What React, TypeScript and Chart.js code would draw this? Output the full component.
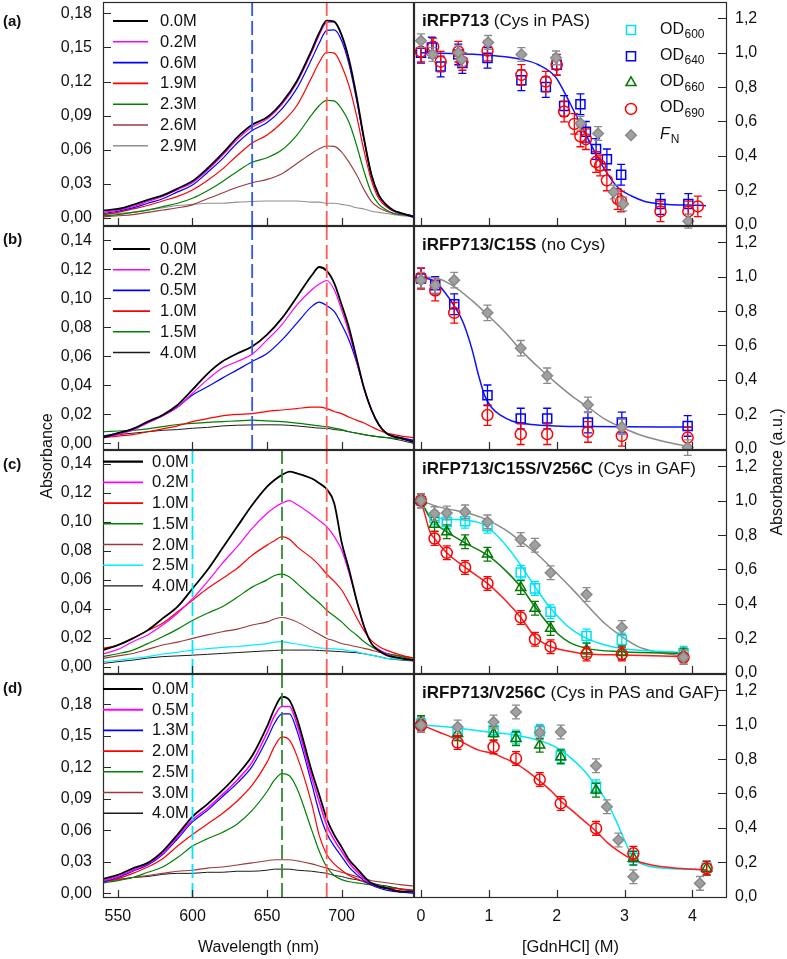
import React, { useEffect, useRef } from 'react';
import { Chart, registerables } from 'chart.js';

Chart.register(...registerables);

const FONT = "'Liberation Sans', Arial, Helvetica, sans-serif";

// ---------------- left column: absorption spectra ----------------
const wlAB = [540, 550, 560, 570, 580, 590, 600, 610, 620, 630, 640, 650, 660, 670, 680, 685, 690, 695, 700, 705, 710, 715, 720, 725, 730, 735, 740, 748];
const wlCD = [540, 550, 560, 570, 580, 590, 600, 610, 620, 630, 640, 650, 655, 660, 665, 670, 680, 685, 690, 695, 700, 705, 710, 715, 720, 725, 730, 740, 748];

// (a) iRFP713
const a00 = [0.0067, 0.008, 0.0116, 0.016, 0.020, 0.026, 0.0325, 0.0436, 0.0566, 0.071, 0.082, 0.0886, 0.1016, 0.1205, 0.148, 0.163, 0.1737, 0.1727, 0.161, 0.139, 0.107, 0.0697, 0.0378, 0.020, 0.0116, 0.0067, 0.0044, 0.001];
const a02 = [0.005, 0.007, 0.010, 0.0145, 0.019, 0.025, 0.031, 0.042, 0.055, 0.069, 0.080, 0.087, 0.100, 0.119, 0.146, 0.161, 0.172, 0.1725, 0.160, 0.138, 0.106, 0.069, 0.037, 0.019, 0.011, 0.006, 0.004, 0.001];
const a06 = [0.004, 0.006, 0.009, 0.013, 0.017, 0.023, 0.029, 0.040, 0.052, 0.066, 0.077, 0.084, 0.096, 0.114, 0.140, 0.154, 0.165, 0.1655, 0.156, 0.135, 0.104, 0.069, 0.038, 0.020, 0.011, 0.006, 0.004, 0.002];
const a19 = [0.003, 0.005, 0.008, 0.011, 0.015, 0.019, 0.0247, 0.033, 0.043, 0.055, 0.066, 0.073, 0.084, 0.099, 0.124, 0.137, 0.1458, 0.145, 0.134, 0.116, 0.090, 0.059, 0.033, 0.017, 0.010, 0.006, 0.004, 0.002];
const a23 = [0.002, 0.003, 0.005, 0.007, 0.010, 0.013, 0.0174, 0.024, 0.032, 0.041, 0.049, 0.053, 0.060, 0.073, 0.091, 0.099, 0.1035, 0.103, 0.096, 0.084, 0.064, 0.041, 0.022, 0.012, 0.007, 0.004, 0.003, 0.002];
const a26 = [0.001, 0.002, 0.003, 0.005, 0.007, 0.009, 0.0116, 0.017, 0.022, 0.027, 0.031, 0.034, 0.039, 0.048, 0.057, 0.061, 0.0633, 0.063, 0.058, 0.049, 0.038, 0.025, 0.0145, 0.009, 0.006, 0.004, 0.003, 0.002];
const a29 = [0.003, 0.004, 0.005, 0.007, 0.009, 0.011, 0.012, 0.013, 0.013, 0.014, 0.0145, 0.015, 0.015, 0.015, 0.014, 0.014, 0.013, 0.013, 0.012, 0.011, 0.009, 0.008, 0.006, 0.005, 0.004, 0.003, 0.002, 0.001];
const concA = ['0.0M', '0.2M', '0.6M', '1.9M', '2.3M', '2.6M', '2.9M'];

// (b) iRFP713/C15S
const b00 = [0.004, 0.007, 0.010, 0.015, 0.0196, 0.0265, 0.037, 0.048, 0.0565, 0.062, 0.0668, 0.075, 0.0864, 0.101, 0.116, 0.1217, 0.119, 0.1106, 0.0956, 0.0795, 0.0588, 0.038, 0.023, 0.0127, 0.007, 0.0046, 0.0035, 0.001];
const b02 = [0.004, 0.006, 0.009, 0.014, 0.019, 0.025, 0.0346, 0.044, 0.052, 0.0565, 0.0615, 0.0714, 0.082, 0.0956, 0.106, 0.110, 0.1124, 0.106, 0.092, 0.076, 0.057, 0.038, 0.023, 0.0127, 0.007, 0.0046, 0.0035, 0.001];
const b05 = [0.005, 0.007, 0.010, 0.0145, 0.019, 0.025, 0.0334, 0.039, 0.045, 0.0507, 0.0565, 0.062, 0.0714, 0.083, 0.0945, 0.0975, 0.095, 0.091, 0.082, 0.071, 0.056, 0.038, 0.023, 0.013, 0.007, 0.005, 0.004, 0.002];
const b10 = [0.004, 0.005, 0.006, 0.008, 0.010, 0.012, 0.015, 0.017, 0.019, 0.020, 0.0205, 0.022, 0.023, 0.024, 0.025, 0.025, 0.024, 0.022, 0.0205, 0.018, 0.016, 0.014, 0.0115, 0.009, 0.007, 0.006, 0.005, 0.004];
const b15 = [0.008, 0.0085, 0.009, 0.010, 0.0115, 0.013, 0.0138, 0.0145, 0.015, 0.0155, 0.016, 0.0155, 0.015, 0.014, 0.0127, 0.012, 0.0115, 0.0105, 0.0095, 0.008, 0.007, 0.006, 0.0053, 0.0045, 0.004, 0.0035, 0.003, 0.002];
const b40 = [0.005, 0.006, 0.007, 0.008, 0.009, 0.0095, 0.0104, 0.011, 0.012, 0.0125, 0.0127, 0.0128, 0.0127, 0.012, 0.011, 0.0105, 0.0104, 0.0095, 0.009, 0.008, 0.007, 0.006, 0.005, 0.0045, 0.004, 0.003, 0.002, 0.000];
const concB = ['0.0M', '0.2M', '0.5M', '1.0M', '1.5M', '4.0M'];

// (c) iRFP713/C15S/V256C
const c00 = [0.0115, 0.015, 0.0196, 0.0253, 0.0334, 0.0415, 0.054, 0.0668, 0.0818, 0.0968, 0.1117, 0.1244, 0.129, 0.1325, 0.1348, 0.1336, 0.130, 0.1267, 0.1226, 0.113, 0.086, 0.067, 0.046, 0.028, 0.016, 0.011, 0.008, 0.0058, 0.0046];
const c02 = [0.0088, 0.012, 0.0173, 0.022, 0.0288, 0.037, 0.047, 0.0588, 0.0714, 0.083, 0.0956, 0.106, 0.110, 0.113, 0.1147, 0.112, 0.105, 0.101, 0.0968, 0.090, 0.0806, 0.0645, 0.046, 0.0276, 0.016, 0.012, 0.0092, 0.0058, 0.0045];
const c10 = [0.0127, 0.015, 0.0196, 0.025, 0.030, 0.038, 0.046, 0.054, 0.061, 0.068, 0.077, 0.084, 0.087, 0.0899, 0.088, 0.083, 0.075, 0.070, 0.064, 0.059, 0.053, 0.044, 0.034, 0.025, 0.018, 0.014, 0.0115, 0.008, 0.006];
const c15 = [0.007, 0.009, 0.0115, 0.016, 0.0207, 0.026, 0.032, 0.037, 0.0415, 0.048, 0.055, 0.060, 0.063, 0.064, 0.062, 0.0576, 0.0484, 0.044, 0.039, 0.035, 0.031, 0.026, 0.0219, 0.0173, 0.0138, 0.011, 0.0092, 0.007, 0.005];
const c20 = [0.0058, 0.0075, 0.0092, 0.012, 0.015, 0.017, 0.0196, 0.022, 0.0242, 0.026, 0.0288, 0.031, 0.033, 0.034, 0.033, 0.031, 0.0253, 0.0225, 0.0196, 0.018, 0.016, 0.015, 0.0138, 0.0127, 0.0115, 0.010, 0.0092, 0.0074, 0.006];
const c25 = [0.0035, 0.0045, 0.0058, 0.007, 0.0088, 0.010, 0.0115, 0.0125, 0.0134, 0.014, 0.015, 0.016, 0.017, 0.0173, 0.0165, 0.0157, 0.0138, 0.013, 0.0127, 0.0123, 0.012, 0.011, 0.0104, 0.009, 0.008, 0.007, 0.0058, 0.005, 0.0045];
const c40 = [0.0023, 0.0035, 0.0046, 0.006, 0.007, 0.0075, 0.008, 0.0086, 0.0092, 0.0098, 0.0104, 0.011, 0.0112, 0.0115, 0.0115, 0.0115, 0.0115, 0.0112, 0.011, 0.0107, 0.0104, 0.010, 0.0097, 0.009, 0.008, 0.007, 0.0058, 0.0046, 0.004];
const concC = ['0.0M', '0.2M', '1.0M', '1.5M', '2.0M', '2.5M', '4.0M'];

// (d) iRFP713/V256C
const d00 = [0.0137, 0.0175, 0.0238, 0.029, 0.040, 0.056, 0.073, 0.085, 0.098, 0.113, 0.131, 0.159, 0.176, 0.1873, 0.184, 0.1667, 0.116, 0.0937, 0.071, 0.0556, 0.044, 0.032, 0.024, 0.016, 0.0095, 0.0064, 0.0048, 0.0016, 0.0016];
const d05 = [0.012, 0.016, 0.022, 0.028, 0.038, 0.054, 0.070, 0.081, 0.094, 0.108, 0.125, 0.153, 0.169, 0.178, 0.178, 0.161, 0.110, 0.087, 0.065, 0.051, 0.040, 0.029, 0.021, 0.014, 0.009, 0.006, 0.0045, 0.002, 0.002];
const d13 = [0.011, 0.015, 0.021, 0.027, 0.037, 0.052, 0.068, 0.079, 0.092, 0.105, 0.121, 0.147, 0.162, 0.171, 0.171, 0.155, 0.104, 0.077, 0.057, 0.045, 0.035, 0.025, 0.018, 0.012, 0.008, 0.005, 0.003, 0.001, 0.000];
const d20 = [0.011, 0.014, 0.019, 0.025, 0.033, 0.045, 0.056, 0.066, 0.076, 0.088, 0.103, 0.125, 0.140, 0.149, 0.146, 0.131, 0.085, 0.055, 0.037, 0.028, 0.022, 0.017, 0.014, 0.011, 0.008, 0.006, 0.005, 0.004, 0.003];
const d25 = [0.010, 0.012, 0.015, 0.020, 0.025, 0.034, 0.045, 0.052, 0.058, 0.066, 0.079, 0.097, 0.108, 0.114, 0.112, 0.100, 0.060, 0.040, 0.025, 0.017, 0.013, 0.011, 0.010, 0.009, 0.008, 0.007, 0.006, 0.004, 0.003];
const d30 = [0.011, 0.013, 0.015, 0.017, 0.019, 0.021, 0.022, 0.024, 0.025, 0.027, 0.029, 0.031, 0.032, 0.032, 0.032, 0.031, 0.028, 0.026, 0.024, 0.022, 0.020, 0.018, 0.016, 0.014, 0.012, 0.011, 0.010, 0.008, 0.007];
const d40 = [0.012, 0.013, 0.015, 0.016, 0.018, 0.019, 0.019, 0.020, 0.020, 0.021, 0.021, 0.022, 0.023, 0.023, 0.023, 0.022, 0.021, 0.020, 0.019, 0.017, 0.016, 0.014, 0.013, 0.011, 0.010, 0.008, 0.007, 0.004, 0.002];
const concD = ['0.0M', '0.5M', '1.3M', '2.0M', '2.5M', '3.0M', '4.0M'];

const xTicksL = [550, 600, 650, 700];
const yTicksL1 = [0, 0.03, 0.06, 0.09, 0.12, 0.15, 0.18];
const yTicksL2 = [0, 0.02, 0.04, 0.06, 0.08, 0.10, 0.12, 0.14];

// ---------------- right column: denaturation ----------------
const xTicksR = [0, 1, 2, 3, 4];
const yTicksR = [0, 0.2, 0.4, 0.6, 0.8, 1.0, 1.2];

// (a)
const gxA = [0, 0.17, 0.55, 0.6, 0.99, 1.48, 1.99, 2.35, 2.61, 2.84, 2.98, 3.94];
const gyA = [1.07, 0.99, 1.0, 0.96, 1.06, 0.99, 0.97, 0.59, 0.53, 0.19, 0.12, 0.02];
const geA = [0.04, 0.04, 0.04, 0.04, 0.04, 0.04, 0.04, 0.04, 0.04, 0.04, 0.04, 0.04];
const rxA = [0, 0.18, 0.29, 0.55, 0.61, 0.98, 1.48, 1.84, 2.0, 2.11, 2.26, 2.35, 2.43, 2.58, 2.64, 2.74, 2.9, 2.95, 3.53, 3.94, 4.08];
const ryA = [1.006, 1.035, 0.948, 1.006, 0.948, 1.012, 0.871, 0.832, 0.929, 0.658, 0.586, 0.513, 0.497, 0.364, 0.344, 0.257, 0.149, 0.135, 0.077, 0.077, 0.106];
const reA = [0.06, 0.05, 0.06, 0.06, 0.05, 0.06, 0.06, 0.06, 0.06, 0.06, 0.06, 0.06, 0.06, 0.06, 0.06, 0.06, 0.06, 0.06, 0.06, 0.06, 0.06];
const bxA = [0, 0.16, 0.29, 0.55, 0.61, 0.98, 1.48, 1.84, 2.0, 2.11, 2.35, 2.43, 2.58, 2.74, 2.95, 3.53, 3.94];
const byA = [1.0, 1.03, 0.92, 0.99, 0.94, 0.97, 0.84, 0.80, 0.93, 0.69, 0.70, 0.54, 0.44, 0.38, 0.29, 0.12, 0.12];
const beA = [0.06, 0.06, 0.06, 0.06, 0.06, 0.06, 0.06, 0.06, 0.06, 0.06, 0.06, 0.06, 0.06, 0.06, 0.06, 0.06, 0.06];
const fbxA = [0, 0.5, 1.0, 1.24, 1.5, 1.73, 1.98, 2.12, 2.27, 2.42, 2.57, 2.71, 2.91, 3.11, 3.30, 3.50, 3.70, 4.09, 4.2];
const fbyA = [1.0, 0.995, 0.985, 0.977, 0.96, 0.93, 0.86, 0.765, 0.648, 0.532, 0.416, 0.319, 0.213, 0.165, 0.135, 0.122, 0.116, 0.112, 0.11];

// (b)
const xB = [0, 0.21, 0.49, 0.98, 1.47, 1.86, 2.46, 2.96, 3.93];
const ryB = [0.99, 0.92, 0.79, 0.195, 0.084, 0.084, 0.097, 0.074, 0.064];
const byB = [0.99, 0.95, 0.84, 0.31, 0.175, 0.175, 0.152, 0.152, 0.132];
const gyB = [0.98, 0.95, 0.98, 0.79, 0.584, 0.424, 0.255, 0.126, 0.006];
const reB = [0.06, 0.06, 0.06, 0.06, 0.06, 0.06, 0.06, 0.06, 0.06];
const beB = [0.06, 0.05, 0.06, 0.06, 0.06, 0.06, 0.06, 0.06, 0.06];
const geB = [0.045, 0.045, 0.045, 0.045, 0.045, 0.045, 0.045, 0.045, 0.045];
const fbxB = [0, 0.21, 0.35, 0.49, 0.62, 0.75, 0.85, 0.94, 1.04, 1.19, 1.34, 1.63, 1.97, 2.47, 3.99];
const fbyB = [1.0, 0.97, 0.91, 0.83, 0.735, 0.58, 0.424, 0.307, 0.239, 0.19, 0.161, 0.14, 0.132, 0.128, 0.126];
const fgxB = [0, 0.26, 0.5, 0.75, 0.99, 1.24, 1.48, 1.73, 1.98, 2.22, 2.47, 2.71, 2.96, 3.2, 3.45, 3.7, 3.94];
const fgyB = [1.0, 0.988, 0.94, 0.862, 0.774, 0.677, 0.57, 0.473, 0.385, 0.307, 0.239, 0.171, 0.123, 0.084, 0.054, 0.031, 0.012];

// (c)
const xC = [0, 0.2, 0.38, 0.65, 0.98, 1.47, 1.68, 1.91, 2.44, 2.96, 3.87];
const gyC = [1.0, 0.925, 0.929, 0.935, 0.877, 0.774, 0.741, 0.581, 0.455, 0.263, 0.089];
const cyC = [1.0, 0.90, 0.877, 0.881, 0.852, 0.583, 0.49, 0.354, 0.213, 0.19, 0.112];
const tyC = [1.0, 0.863, 0.819, 0.761, 0.689, 0.495, 0.374, 0.257, 0.132, 0.116, 0.103];
const ryC = [1.0, 0.78, 0.697, 0.612, 0.519, 0.321, 0.194, 0.151, 0.108, 0.108, 0.089];
const eC = [0.04, 0.04, 0.04, 0.04, 0.04, 0.04, 0.04, 0.04, 0.04, 0.04, 0.04];
const frxC = [0, 0.06, 0.13, 0.2, 0.38, 0.65, 0.98, 1.24, 1.47, 1.68, 1.91, 2.22, 2.44, 2.96, 3.87];
const fryC = [1.0, 0.917, 0.82, 0.78, 0.697, 0.612, 0.519, 0.422, 0.321, 0.209, 0.151, 0.122, 0.108, 0.103, 0.093];
const ftxC = [0, 0.11, 0.2, 0.38, 0.65, 0.98, 1.24, 1.47, 1.68, 1.91, 2.17, 2.44, 2.96, 3.87];
const ftyC = [1.0, 0.915, 0.871, 0.819, 0.755, 0.683, 0.596, 0.499, 0.383, 0.267, 0.18, 0.141, 0.122, 0.112];
const fcxC = [0, 0.11, 0.2, 0.38, 0.65, 0.89, 1.09, 1.29, 1.47, 1.68, 1.91, 2.17, 2.44, 2.71, 2.96, 3.87];
const fcyC = [1.0, 0.925, 0.906, 0.893, 0.887, 0.867, 0.809, 0.722, 0.625, 0.499, 0.374, 0.267, 0.199, 0.161, 0.141, 0.116];
const fgxC = [0, 0.26, 0.5, 0.75, 0.99, 1.24, 1.48, 1.73, 1.98, 2.22, 2.47, 2.71, 2.96, 3.2, 3.45, 3.87];
const fgyC = [1.0, 0.964, 0.944, 0.921, 0.886, 0.832, 0.761, 0.683, 0.586, 0.49, 0.383, 0.286, 0.209, 0.151, 0.122, 0.097];

// (d)
const xD = [0, 0.54, 1.07, 1.4, 1.75, 2.06, 2.58, 3.13, 4.21];
const tyD = [1.012, 0.948, 0.948, 0.919, 0.881, 0.813, 0.619, 0.223, 0.165];
const cyD = [1.006, 0.958, 0.968, 0.929, 0.962, 0.819, 0.639, 0.226, 0.168];
const ryD = [0.997, 0.896, 0.871, 0.803, 0.681, 0.542, 0.397, 0.252, 0.165];
const eD = [0.04, 0.04, 0.04, 0.04, 0.04, 0.04, 0.04, 0.04, 0.04];
const gxD = [0, 0.54, 1.07, 1.4, 1.75, 2.06, 2.58, 2.74, 2.91, 3.13, 4.11];
const gyD = [0.997, 0.987, 1.016, 1.074, 0.954, 0.958, 0.761, 0.523, 0.329, 0.116, 0.077];
const geD = [0.04, 0.04, 0.04, 0.04, 0.04, 0.04, 0.04, 0.04, 0.04, 0.04, 0.04];
const fcxD = [0, 0.5, 0.99, 1.4, 1.73, 1.98, 2.22, 2.42, 2.57, 2.71, 2.86, 3.01, 3.13, 3.3, 3.6, 3.94, 4.21];
const fcyD = [1.0, 0.983, 0.958, 0.939, 0.91, 0.871, 0.803, 0.726, 0.648, 0.571, 0.455, 0.319, 0.223, 0.184, 0.165, 0.159, 0.155];
const frxD = [0, 0.26, 0.55, 0.85, 1.07, 1.24, 1.4, 1.58, 1.75, 1.93, 2.07, 2.22, 2.42, 2.58, 2.76, 2.96, 3.13, 3.4, 3.7, 4.21];
const fryD = [1.0, 0.958, 0.91, 0.852, 0.832, 0.803, 0.774, 0.726, 0.672, 0.61, 0.552, 0.503, 0.435, 0.381, 0.31, 0.252, 0.213, 0.184, 0.168, 0.155];

// ---------------- styles ----------------
const C = {
  black: '#000000', magenta: '#ff00ff', blue: '#0000ff', red: '#ff0000', green: '#008000',
  brown: '#9a3a3a', gray: '#909090', cyan: '#00eeff', dark: '#1a1a1a',
};
const MARK: Record<string, { style: string; r: number; border: string; fill: string }> = {
  cyan: { style: 'rect', r: 6.4, border: '#00e0f0', fill: 'rgba(0,0,0,0)' },
  blue: { style: 'rect', r: 6.4, border: '#0000ff', fill: 'rgba(0,0,0,0)' },
  green: { style: 'triangle', r: 5.8, border: '#007a00', fill: 'rgba(0,0,0,0)' },
  red: { style: 'circle', r: 5.5, border: '#ff0000', fill: 'rgba(0,0,0,0)' },
  gray: { style: 'rectRot', r: 5.3, border: '#8a8a8a', fill: '#a0a0a0' },
};

const ROW_TOPS = [2, 226, 450, 674];
const ROW_H = 224;
const FULL_H = 959;

function rowGeom(row: number) {
  const rowTop = ROW_TOPS[row];
  const cTop = Math.max(0, rowTop - 12);
  const padTop = rowTop - cTop;
  const last = row === 3;
  const padBottom = last ? 0 : 12;
  const h = last ? FULL_H - cTop : padTop + ROW_H + padBottom;
  return { cTop, padTop, padBottom, h, last };
}

function zeroPad(s: any) {
  s.paddingLeft = 0; s.paddingRight = 0; s.paddingTop = 0; s.paddingBottom = 0;
}

function drawShape(ctx: CanvasRenderingContext2D, kind: string, x: number, y: number) {
  const m = MARK[kind];
  ctx.save();
  ctx.lineWidth = 1.5;
  ctx.strokeStyle = m.border;
  ctx.fillStyle = m.fill;
  ctx.beginPath();
  if (m.style === 'rect') {
    const s = m.r * Math.SQRT1_2;
    ctx.rect(x - s, y - s, 2 * s, 2 * s);
  } else if (m.style === 'circle') {
    ctx.arc(x, y, m.r, 0, Math.PI * 2);
  } else if (m.style === 'triangle') {
    for (let k = 0; k < 3; k++) {
      const a = (k * 2 * Math.PI) / 3;
      const px = x + Math.sin(a) * m.r, py = y - Math.cos(a) * m.r;
      if (k === 0) ctx.moveTo(px, py); else ctx.lineTo(px, py);
    }
    ctx.closePath();
  } else {
    ctx.moveTo(x - m.r, y); ctx.lineTo(x, y - m.r); ctx.lineTo(x + m.r, y); ctx.lineTo(x, y + m.r);
    ctx.closePath();
  }
  ctx.fill();
  ctx.stroke();
  ctx.restore();
}

function makeDecor(cfg: any) {
  return {
    id: 'decor',
    beforeDatasetDraw(chart: any, args: any) {
      const ds = chart.data.datasets[args.index];
      if (!ds.errors) return;
      const ctx = chart.ctx as CanvasRenderingContext2D;
      const ys = chart.scales.y;
      ctx.save();
      ctx.strokeStyle = ds.errColor;
      ctx.lineWidth = 1.3;
      args.meta.data.forEach((el: any, j: number) => {
        const d = ds.data[j];
        const e = ds.errors[j];
        const y1 = ys.getPixelForValue(d.y + e);
        const y2 = ys.getPixelForValue(d.y - e);
        const x = el.x;
        ctx.beginPath();
        ctx.moveTo(x, y1); ctx.lineTo(x, y2);
        ctx.moveTo(x - 4, y1); ctx.lineTo(x + 4, y1);
        ctx.moveTo(x - 4, y2); ctx.lineTo(x + 4, y2);
        ctx.stroke();
      });
      ctx.restore();
    },
    afterDatasetsDraw(chart: any) {
      const ctx = chart.ctx as CanvasRenderingContext2D;
      const { left, right, top, bottom } = chart.chartArea;
      const xs = chart.scales.x, ys = chart.scales.y;
      // dashed marker lines
      (cfg.vlines || []).forEach((v: any) => {
        const x = xs.getPixelForValue(v.v);
        ctx.save();
        ctx.strokeStyle = v.c; ctx.lineWidth = 1.8; ctx.setLineDash([14, 5]);
        ctx.beginPath(); ctx.moveTo(x, top); ctx.lineTo(x, bottom); ctx.stroke();
        ctx.restore();
      });
      // frame
      ctx.save();
      ctx.strokeStyle = '#2a2a2a'; ctx.lineWidth = 1.2;
      ctx.strokeRect(left + 0.5, top + 0.5, right - left - 1, bottom - top - 1);
      // inward ticks
      ctx.beginPath();
      xs.ticks.forEach((t: any) => {
        const x = Math.round(xs.getPixelForValue(t.value)) + 0.5;
        ctx.moveTo(x, bottom); ctx.lineTo(x, bottom - 8);
      });
      ys.ticks.forEach((t: any) => {
        const y = Math.round(ys.getPixelForValue(t.value)) + 0.5;
        if (cfg.yEdge === 'left') { ctx.moveTo(left, y); ctx.lineTo(left + 8, y); }
        else { ctx.moveTo(right, y); ctx.lineTo(right - 9, y); }
      });
      ctx.stroke();
      ctx.restore();
      // line legend (spectra)
      if (cfg.lineLegend) {
        const L = cfg.lineLegend;
        ctx.save();
        ctx.font = `16.5px ${FONT}`;
        ctx.textBaseline = 'middle';
        ctx.fillStyle = '#111';
        chart.data.datasets.forEach((ds: any, i: number) => {
          const y = top + L.y0 + L.dy * i;
          ctx.strokeStyle = ds.borderColor;
          ctx.lineWidth = ds.borderWidth + 0.4;
          ctx.beginPath(); ctx.moveTo(left + L.x0, y); ctx.lineTo(left + L.x1, y); ctx.stroke();
          ctx.fillText(ds.label, left + L.tx, y + 0.5);
        });
        ctx.restore();
      }
      // title
      if (cfg.title) {
        ctx.save();
        ctx.textBaseline = 'middle';
        ctx.fillStyle = '#111';
        ctx.font = `bold 17px ${FONT}`;
        const x0 = left + 8, y0 = top + 19;
        ctx.fillText(cfg.title[0], x0, y0);
        const w = ctx.measureText(cfg.title[0]).width;
        ctx.font = `17px ${FONT}`;
        ctx.fillText(cfg.title[1], x0 + w, y0);
        ctx.restore();
      }
      // marker legend
      if (cfg.markLegend) {
        ctx.save();
        ctx.fillStyle = '#111';
        ctx.textBaseline = 'alphabetic';
        cfg.markLegend.forEach((it: any, i: number) => {
          const y = top + 28 + 26.3 * i;
          drawShape(ctx, it.kind, left + 217, y);
          const tx = left + 246;
          ctx.font = it.italic ? `italic 16px ${FONT}` : `16px ${FONT}`;
          ctx.fillText(it.main, tx, y + 3.5);
          const w = ctx.measureText(it.main).width;
          ctx.font = `12px ${FONT}`;
          ctx.fillText(it.sub, tx + w + (it.italic ? 1 : 0.5), y + 8);
        });
        ctx.restore();
      }
    },
  };
}

function makeLeft(canvas: HTMLCanvasElement, p: any, row: number) {
  const g = rowGeom(row);
  const datasets = p.series.map((vals: number[], i: number) => ({
    label: p.labels[i],
    data: p.wl.map((w: number, j: number) => ({ x: w, y: vals[j] })),
    borderColor: p.colors[i],
    borderWidth: p.widths[i],
    pointRadius: 0,
    fill: false,
    cubicInterpolationMode: 'monotone',
  }));
  return new Chart(canvas, {
    type: 'line',
    data: { datasets },
    options: {
      animation: false,
      responsive: false,
      events: [],
      layout: { autoPadding: false, padding: { left: 0, right: 1, top: g.padTop, bottom: g.padBottom } },
      plugins: { legend: { display: false }, tooltip: { enabled: false } },
      scales: {
        x: {
          type: 'linear', min: 540, max: 748.5, bounds: 'data', position: 'bottom',
          afterBuildTicks: (s: any) => { s.ticks = xTicksL.map((v) => ({ value: v })); },
          afterFit: (s: any) => { s.height = g.last ? 61 : 0; zeroPad(s); },
          grid: { display: false, drawTicks: false },
          border: { display: false },
          ticks: { display: g.last, padding: 9, color: '#111', font: { family: FONT, size: 16 }, maxRotation: 0, callback: (v: any) => String(v) },
          title: { display: g.last, text: 'Wavelength (nm)', color: '#111', font: { family: FONT, size: 16 }, padding: { top: 0, bottom: 2 } },
        },
        y: {
          type: 'linear', min: p.yMin, max: p.yMax, bounds: 'data', position: 'left',
          afterBuildTicks: (s: any) => { s.ticks = p.yTicks.map((v: number) => ({ value: v })); },
          afterFit: (s: any) => { s.width = 103; zeroPad(s); },
          grid: { display: false, drawTicks: false },
          border: { display: false },
          ticks: { padding: 11, color: '#111', font: { family: FONT, size: 16 }, callback: (v: any) => Number(v).toFixed(2).replace('.', ',') },
        },
      },
    } as any,
    plugins: [makeDecor({ vlines: p.vlines, yEdge: 'left', lineLegend: p.legend })],
  } as any);
}

function makeRight(canvas: HTMLCanvasElement, p: any, row: number) {
  const g = rowGeom(row);
  const datasets: any[] = [];
  p.points.forEach((s: any) => {
    const m = MARK[s.kind];
    datasets.push({
      label: s.kind,
      data: s.xs.map((x: number, j: number) => ({ x, y: s.ys[j] })),
      errors: s.errs,
      errColor: m.border,
      showLine: false,
      pointStyle: m.style,
      pointRadius: m.r,
      pointBorderWidth: 1.5,
      pointBorderColor: m.border,
      pointBackgroundColor: m.fill,
      borderColor: m.border,
    });
  });
  p.fits.forEach((f: any) => {
    datasets.push({
      label: 'fit',
      data: f.xs.map((x: number, j: number) => ({ x, y: f.ys[j] })),
      borderColor: f.color,
      borderWidth: 1.5,
      pointRadius: 0,
      fill: false,
      cubicInterpolationMode: 'monotone',
    });
  });
  return new Chart(canvas, {
    type: 'line',
    data: { datasets },
    options: {
      animation: false,
      responsive: false,
      events: [],
      layout: { autoPadding: false, padding: { left: 1, right: 0, top: g.padTop, bottom: g.padBottom } },
      plugins: { legend: { display: false }, tooltip: { enabled: false } },
      scales: {
        x: {
          type: 'linear', min: -0.103, max: 4.51, bounds: 'data', position: 'bottom',
          afterBuildTicks: (s: any) => { s.ticks = xTicksR.map((v) => ({ value: v })); },
          afterFit: (s: any) => { s.height = g.last ? 61 : 0; zeroPad(s); },
          grid: { display: false, drawTicks: false },
          border: { display: false },
          ticks: { display: g.last, padding: 9, color: '#111', font: { family: FONT, size: 16 }, maxRotation: 0, callback: (v: any) => String(v) },
          title: { display: g.last, text: '[GdnHCl] (M)', color: '#111', font: { family: FONT, size: 16.5 }, padding: { top: 0, bottom: 2 } },
        },
        y: {
          type: 'linear', min: -0.008, max: 1.295, bounds: 'data', position: 'right',
          afterBuildTicks: (s: any) => { s.ticks = yTicksR.map((v) => ({ value: v })); },
          afterFit: (s: any) => { s.width = 60; zeroPad(s); },
          grid: { display: false, drawTicks: false },
          border: { display: false },
          ticks: { padding: 8, color: '#111', font: { family: FONT, size: 16 }, callback: (v: any) => Number(v).toFixed(1).replace('.', ',') },
        },
      },
    } as any,
    plugins: [makeDecor({ yEdge: 'right', title: p.title, markLegend: p.markLegend })],
  } as any);
}

const vlAB = [{ v: 640, c: '#2f55ff' }, { v: 690, c: '#ff5a5a' }];
const vlCD = [{ v: 600, c: '#00e5ff' }, { v: 660, c: '#2e8b2e' }, { v: 690, c: '#ff5a5a' }];

const LEFT = [
  {
    wl: wlAB, series: [a00, a02, a06, a19, a23, a26, a29], labels: concA,
    colors: [C.black, C.magenta, C.blue, C.red, C.green, C.brown, C.gray],
    widths: [1.8, 1.2, 1.2, 1.2, 1.2, 1.1, 1.1],
    yMin: -0.007, yMax: 0.19, yTicks: yTicksL1, vlines: vlAB,
    legend: { x0: 10, x1: 45, tx: 57, y0: 19, dy: 20.8 },
  },
  {
    wl: wlAB, series: [b00, b02, b05, b10, b15, b40], labels: concB,
    colors: [C.black, C.magenta, C.blue, C.red, C.green, C.dark],
    widths: [1.8, 1.2, 1.2, 1.2, 1.2, 1.0],
    yMin: -0.0046, yMax: 0.150, yTicks: yTicksL2, vlines: vlAB,
    legend: { x0: 10, x1: 47, tx: 57, y0: 23, dy: 20.7 },
  },
  {
    wl: wlCD, series: [c00, c02, c10, c15, c20, c25, c40], labels: concC,
    colors: [C.black, C.magenta, C.red, C.green, C.brown, C.cyan, C.dark],
    widths: [1.8, 1.2, 1.2, 1.2, 1.1, 1.2, 1.0],
    yMin: -0.005, yMax: 0.1497, yTicks: yTicksL2, vlines: vlCD,
    legend: { x0: 0, x1: 40, tx: 49, y0: 11.7, dy: 20.7 },
  },
  {
    wl: wlCD, series: [d00, d05, d13, d20, d25, d30, d40], labels: concD,
    colors: [C.black, C.magenta, C.blue, C.red, C.green, C.brown, C.dark],
    widths: [1.8, 1.6, 1.2, 1.2, 1.2, 1.1, 1.0],
    yMin: -0.0045, yMax: 0.209, yTicks: yTicksL1, vlines: vlCD,
    legend: { x0: 0, x1: 40, tx: 49, y0: 15, dy: 20.7 },
  },
];

const RIGHT = [
  {
    title: ['iRFP713', ' (Cys in PAS)'],
    points: [
      { kind: 'gray', xs: gxA, ys: gyA, errs: geA },
      { kind: 'red', xs: rxA, ys: ryA, errs: reA },
      { kind: 'blue', xs: bxA, ys: byA, errs: beA },
    ],
    fits: [{ xs: fbxA, ys: fbyA, color: '#1010ff' }],
    markLegend: [
      { kind: 'cyan', main: 'OD', sub: '600' },
      { kind: 'blue', main: 'OD', sub: '640' },
      { kind: 'green', main: 'OD', sub: '660' },
      { kind: 'red', main: 'OD', sub: '690' },
      { kind: 'gray', main: 'F', sub: 'N', italic: true },
    ],
  },
  {
    title: ['iRFP713/C15S', ' (no Cys)'],
    points: [
      { kind: 'gray', xs: xB, ys: gyB, errs: geB },
      { kind: 'red', xs: xB, ys: ryB, errs: reB },
      { kind: 'blue', xs: xB, ys: byB, errs: beB },
    ],
    fits: [{ xs: fbxB, ys: fbyB, color: '#1010ff' }, { xs: fgxB, ys: fgyB, color: '#8a8a8a' }],
  },
  {
    title: ['iRFP713/C15S/V256C', ' (Cys in GAF)'],
    points: [
      { kind: 'gray', xs: xC, ys: gyC, errs: eC },
      { kind: 'red', xs: xC, ys: ryC, errs: eC },
      { kind: 'green', xs: xC, ys: tyC, errs: eC },
      { kind: 'cyan', xs: xC, ys: cyC, errs: eC },
    ],
    fits: [
      { xs: frxC, ys: fryC, color: '#ff1a1a' },
      { xs: ftxC, ys: ftyC, color: '#0a800a' },
      { xs: fcxC, ys: fcyC, color: '#00eaf5' },
      { xs: fgxC, ys: fgyC, color: '#8a8a8a' },
    ],
  },
  {
    title: ['iRFP713/V256C', ' (Cys in PAS and GAF)'],
    points: [
      { kind: 'gray', xs: gxD, ys: gyD, errs: geD },
      { kind: 'red', xs: xD, ys: ryD, errs: eD },
      { kind: 'green', xs: xD, ys: tyD, errs: eD },
      { kind: 'cyan', xs: xD, ys: cyD, errs: eD },
    ],
    fits: [
      { xs: frxD, ys: fryD, color: '#ff1a1a' },
      { xs: fcxD, ys: fcyD, color: '#00eaf5' },
    ],
  },
];

function Panel({ side, row }: { side: 'L' | 'R'; row: number }) {
  const ref = useRef<HTMLCanvasElement>(null);
  const g = rowGeom(row);
  const left = side === 'L' ? 0 : 413;
  const width = side === 'L' ? 415 : 374;
  useEffect(() => {
    const c = side === 'L' ? makeLeft(ref.current!, LEFT[row], row) : makeRight(ref.current!, RIGHT[row], row);
    return () => c.destroy();
  }, []);
  return (
    <canvas
      ref={ref}
      width={width}
      height={g.h}
      style={{ position: 'absolute', left, top: g.cTop, width, height: g.h }}
    />
  );
}

const PANEL_LABELS = ['(a)', '(b)', '(c)', '(d)'];
const LABEL_Y = [21, 239, 464, 688];

export default function App() {
  useEffect(() => {
    document.body.style.margin = '0';
    document.body.style.overflow = 'hidden';
  }, []);
  return (
    <div style={{ position: 'absolute', left: 0, top: 0, width: 787, height: 959, background: '#fff', overflow: 'hidden', fontFamily: FONT }}>
      {[0, 1, 2, 3].map((r) => <Panel key={'L' + r} side="L" row={r} />)}
      {[0, 1, 2, 3].map((r) => <Panel key={'R' + r} side="R" row={r} />)}
      {PANEL_LABELS.map((t, i) => (
        <div key={t} style={{ position: 'absolute', left: 3, top: LABEL_Y[i] - 9, lineHeight: '18px', fontSize: 15, fontWeight: 'bold', color: '#111' }}>{t}</div>
      ))}
      <div style={{ position: 'absolute', left: 46.5 - 80, top: 456 - 10, width: 160, height: 20, lineHeight: '20px', textAlign: 'center', fontSize: 16, color: '#111', transform: 'rotate(-90deg)' }}>Absorbance</div>
      <div style={{ position: 'absolute', left: 777 - 90, top: 472 - 10, width: 180, height: 20, lineHeight: '20px', textAlign: 'center', fontSize: 16, color: '#111', transform: 'rotate(-90deg)' }}>Absorbance (a.u.)</div>
    </div>
  );
}
